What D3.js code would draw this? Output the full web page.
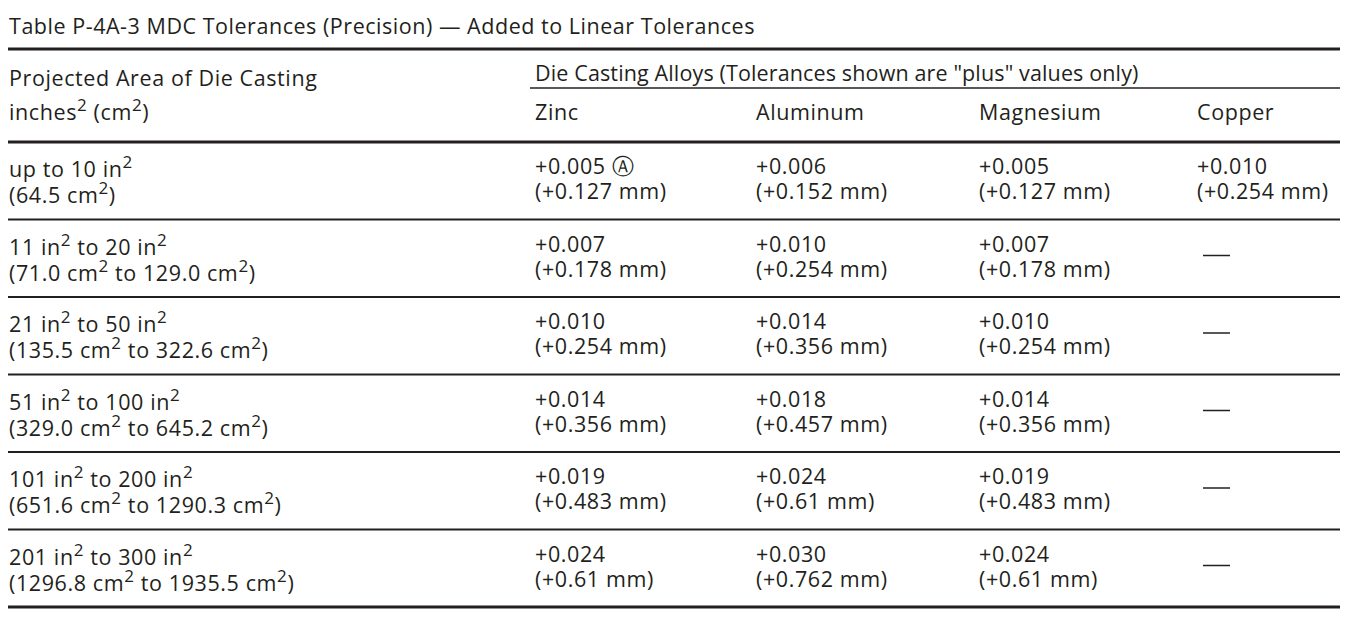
<!DOCTYPE html>
<html><head><meta charset="utf-8">
<script src="https://cdn.jsdelivr.net/npm/d3@7"></script>
<style>body{margin:0;background:#fff}text{font-family:"Open Sans",sans-serif;fill:#231f20;letter-spacing:0.6px}</style>
</head><body><svg id="c" width="1346" height="618"></svg>
<script>
const title = "Table P-4A-3 MDC Tolerances (Precision) — Added to Linear Tolerances";
const headerLeft = ["Projected Area of Die Casting", "inches^2 (cm^2)"];
const groupHeader = "Die Casting Alloys (Tolerances shown are \"plus\" values only)";
const alloys = ["Zinc", "Aluminum", "Magnesium", "Copper"];
const areas = [
  ["up to 10 in^2", "(64.5 cm^2)"],
  ["11 in^2 to 20 in^2", "(71.0 cm^2 to 129.0 cm^2)"],
  ["21 in^2 to 50 in^2", "(135.5 cm^2 to 322.6 cm^2)"],
  ["51 in^2 to 100 in^2", "(329.0 cm^2 to 645.2 cm^2)"],
  ["101 in^2 to 200 in^2", "(651.6 cm^2 to 1290.3 cm^2)"],
  ["201 in^2 to 300 in^2", "(1296.8 cm^2 to 1935.5 cm^2)"]
];
const zinc = [["+0.005 Ⓐ","(+0.127 mm)"],["+0.007","(+0.178 mm)"],["+0.010","(+0.254 mm)"],["+0.014","(+0.356 mm)"],["+0.019","(+0.483 mm)"],["+0.024","(+0.61 mm)"]];
const aluminum = [["+0.006","(+0.152 mm)"],["+0.010","(+0.254 mm)"],["+0.014","(+0.356 mm)"],["+0.018","(+0.457 mm)"],["+0.024","(+0.61 mm)"],["+0.030","(+0.762 mm)"]];
const magnesium = [["+0.005","(+0.127 mm)"],["+0.007","(+0.178 mm)"],["+0.010","(+0.254 mm)"],["+0.014","(+0.356 mm)"],["+0.019","(+0.483 mm)"],["+0.024","(+0.61 mm)"]];
const copper = [["+0.010","(+0.254 mm)"],null,null,null,null,null];
const series = [zinc, aluminum, magnesium, copper];

const svg = d3.select("#c");
const fs = 21.5;
const rowY = d3.scaleLinear().domain([0, 6]).range([142, 607]);
const colX = d3.scaleOrdinal().domain(["area", ...alloys]).range([9, 535, 756, 979, 1197]);

function rich(sel, str, x, y) {
  const t = sel.append("text").attr("x", x).attr("y", y).attr("font-size", fs);
  let up = false;
  str.split(/(\^2)/).forEach(p => {
    if (p === "^2") { t.append("tspan").attr("dy", -9).attr("font-size", 17).text("2"); up = true; }
    else if (p) {
      const sp = t.append("tspan").text(p);
      if (up) { sp.attr("dy", 9); up = false; }
    }
  });
  return t;
}

svg.append("text").attr("x", 9).attr("y", 34).attr("font-size", fs).attr("textLength", 746).text(title);
const line = (x1, x2, y, w) => svg.append("line").attr("x1", x1).attr("x2", x2).attr("y1", y).attr("y2", y).attr("stroke", "#231f20").attr("stroke-width", w);
line(8, 1340, 49, 3);
rich(svg, headerLeft[0], colX("area"), 86);
rich(svg, headerLeft[1], colX("area"), 120);
svg.append("text").attr("x", 535).attr("y", 81).attr("font-size", fs).attr("textLength", 604).text(groupHeader);
line(530, 1340, 88, 1.5);
alloys.forEach(a => svg.append("text").attr("x", colX(a)).attr("y", 120).attr("font-size", fs).text(a));

d3.range(7).forEach(i => line(8, 1340, rowY(i), (i === 0 || i === 6) ? 3 : 2));

areas.forEach((r, i) => {
  const top = rowY(i);
  rich(svg, r[0], colX("area"), top + 35);
  rich(svg, r[1], colX("area"), top + 61);
  series.forEach((s, j) => {
    const v = s[i], x = colX(alloys[j]);
    if (v) {
      svg.append("text").attr("x", x).attr("y", top + 32).attr("font-size", fs).text(v[0]);
      svg.append("text").attr("x", x).attr("y", top + 57).attr("font-size", fs).text(v[1]);
    } else {
      svg.append("line").attr("x1", x + 6).attr("x2", x + 33).attr("y1", top + 36).attr("y2", top + 36).attr("stroke", "#231f20").attr("stroke-width", 1.5);
    }
  });
});
</script></body></html>
